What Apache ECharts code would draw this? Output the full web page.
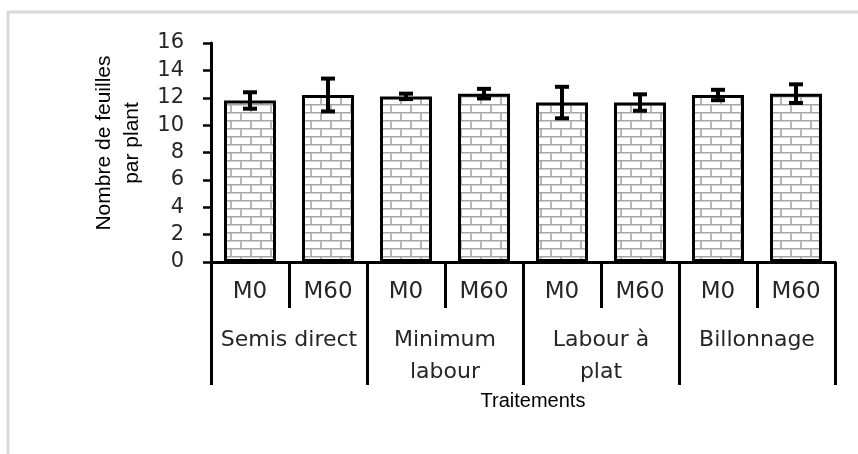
<!DOCTYPE html>
<html lang="fr">
<head>
    <meta charset="UTF-8">
    <title>Nombre de feuilles par plant</title>
    <script src="https://cdn.jsdelivr.net/npm/echarts@6/dist/echarts.min.js"></script>
    <style>
        html, body { margin: 0; padding: 0; background: #fff; }
        #chart { width: 858px; height: 454px; }
    </style>
</head>
<body>
    <div id="chart"></div>
<script>
    // donnees
    var traitements = ['M0', 'M60', 'M0', 'M60', 'M0', 'M60', 'M0', 'M60'];
    var groupes = ['Semis direct', 'Minimum\nlabour', 'Labour à\nplat', 'Billonnage'];
    var moyennes = [11.8, 12.2, 12.1, 12.3, 11.65, 11.65, 12.2, 12.3];
    var erreurs = [0.6, 1.2, 0.2, 0.35, 1.15, 0.6, 0.38, 0.68];

    // motif "briques" pour le remplissage des barres
    function briques() {
        var c = document.createElement('canvas');
        c.width = 20; c.height = 16;
        var ctx = c.getContext('2d');
        ctx.fillStyle = '#fff';
        ctx.fillRect(0, 0, 20, 16);
        ctx.strokeStyle = '#a6a6a6';
        ctx.lineWidth = 1.6;
        ctx.beginPath();
        ctx.moveTo(0, 0.8); ctx.lineTo(20, 0.8);
        ctx.moveTo(0, 8.8); ctx.lineTo(20, 8.8);
        ctx.moveTo(1, 0); ctx.lineTo(1, 8.8);
        ctx.moveTo(11, 8.8); ctx.lineTo(11, 16);
        ctx.stroke();
        return c;
    }

    var barres = [];
    var barresErreur = [];
    for (var i = 0; i < moyennes.length; i++) {
        barres.push(moyennes[i]);
        barresErreur.push([i, moyennes[i] - erreurs[i], moyennes[i] + erreurs[i]]);
    }

    var chart = echarts.init(document.getElementById('chart'));
    var option = {
        animation: false,
        graphic: [{
            type: 'rect',
            shape: { x: 8, y: 12, width: 900, height: 500 },
            style: { fill: 'none', stroke: '#d9d9d9', lineWidth: 3 },
            silent: true
        }, {
            type: 'text',
            x: 118, y: 143,
            rotation: Math.PI / 2,
            style: {
                text: 'Nombre de feuilles\npar plant',
                font: '21px "Liberation Sans", Arial, sans-serif',
                fill: '#000',
                align: 'center',
                verticalAlign: 'middle',
                lineHeight: 28
            }
        }],
        grid: { left: 211, right: 23, top: 43, bottom: 192 },
        xAxis: [{
            type: 'category',
            data: traitements,
            axisLine: { show: true, lineStyle: { color: '#000', width: 3 } },
            axisTick: { show: true, interval: 0, length: 46, lineStyle: { color: '#000', width: 3 } },
            axisLabel: {
                margin: 19, interval: 0,
                fontFamily: 'DejaVu Sans', fontSize: 23, color: '#262626'
            }
        }, {
            type: 'category',
            data: groupes,
            position: 'bottom',
            axisLine: { show: true, lineStyle: { color: '#000', width: 3 } },
            axisTick: { show: true, length: 123, interval: 0, lineStyle: { color: '#000', width: 3 } },
            axisLabel: {
                margin: 62, interval: 0, lineHeight: 32,
                fontFamily: 'DejaVu Sans', fontSize: 22, color: '#262626'
            },
            name: 'Traitements',
            nameLocation: 'middle',
            nameGap: 129,
            nameTextStyle: {
                fontFamily: 'Liberation Sans', fontSize: 20, color: '#000',
                padding: [0, 0, 0, 20]
            }
        }],
        yAxis: {
            type: 'value',
            min: 0, max: 16, interval: 2,
            axisLine: { show: true, lineStyle: { color: '#000', width: 3 } },
            axisTick: { show: true, length: 8, lineStyle: { color: '#000', width: 2.5 } },
            splitLine: { show: false },
            axisLabel: {
                margin: 27,
                fontFamily: 'DejaVu Sans', fontSize: 21, color: '#262626'
            }
        },
        series: [{
            type: 'bar',
            xAxisIndex: 0,
            data: barres,
            barWidth: 52,
            itemStyle: {
                color: { image: briques(), repeat: 'repeat' },
                borderColor: '#000',
                borderWidth: 3
            }
        }, {
            type: 'custom',
            xAxisIndex: 0,
            data: barresErreur,
            z: 10,
            renderItem: function (params, api) {
                var bas = api.coord([api.value(0), api.value(1)]);
                var haut = api.coord([api.value(0), api.value(2)]);
                var d = 7;
                var st = { stroke: '#000', lineWidth: 4 };
                return {
                    type: 'group',
                    children: [
                        { type: 'line', shape: { x1: bas[0], y1: haut[1], x2: bas[0], y2: bas[1] }, style: st },
                        { type: 'line', shape: { x1: bas[0] - d, y1: haut[1], x2: bas[0] + d, y2: haut[1] }, style: st },
                        { type: 'line', shape: { x1: bas[0] - d, y1: bas[1], x2: bas[0] + d, y2: bas[1] }, style: st }
                    ]
                };
            }
        }]
    };
    chart.setOption(option);
</script>
</body>
</html>
